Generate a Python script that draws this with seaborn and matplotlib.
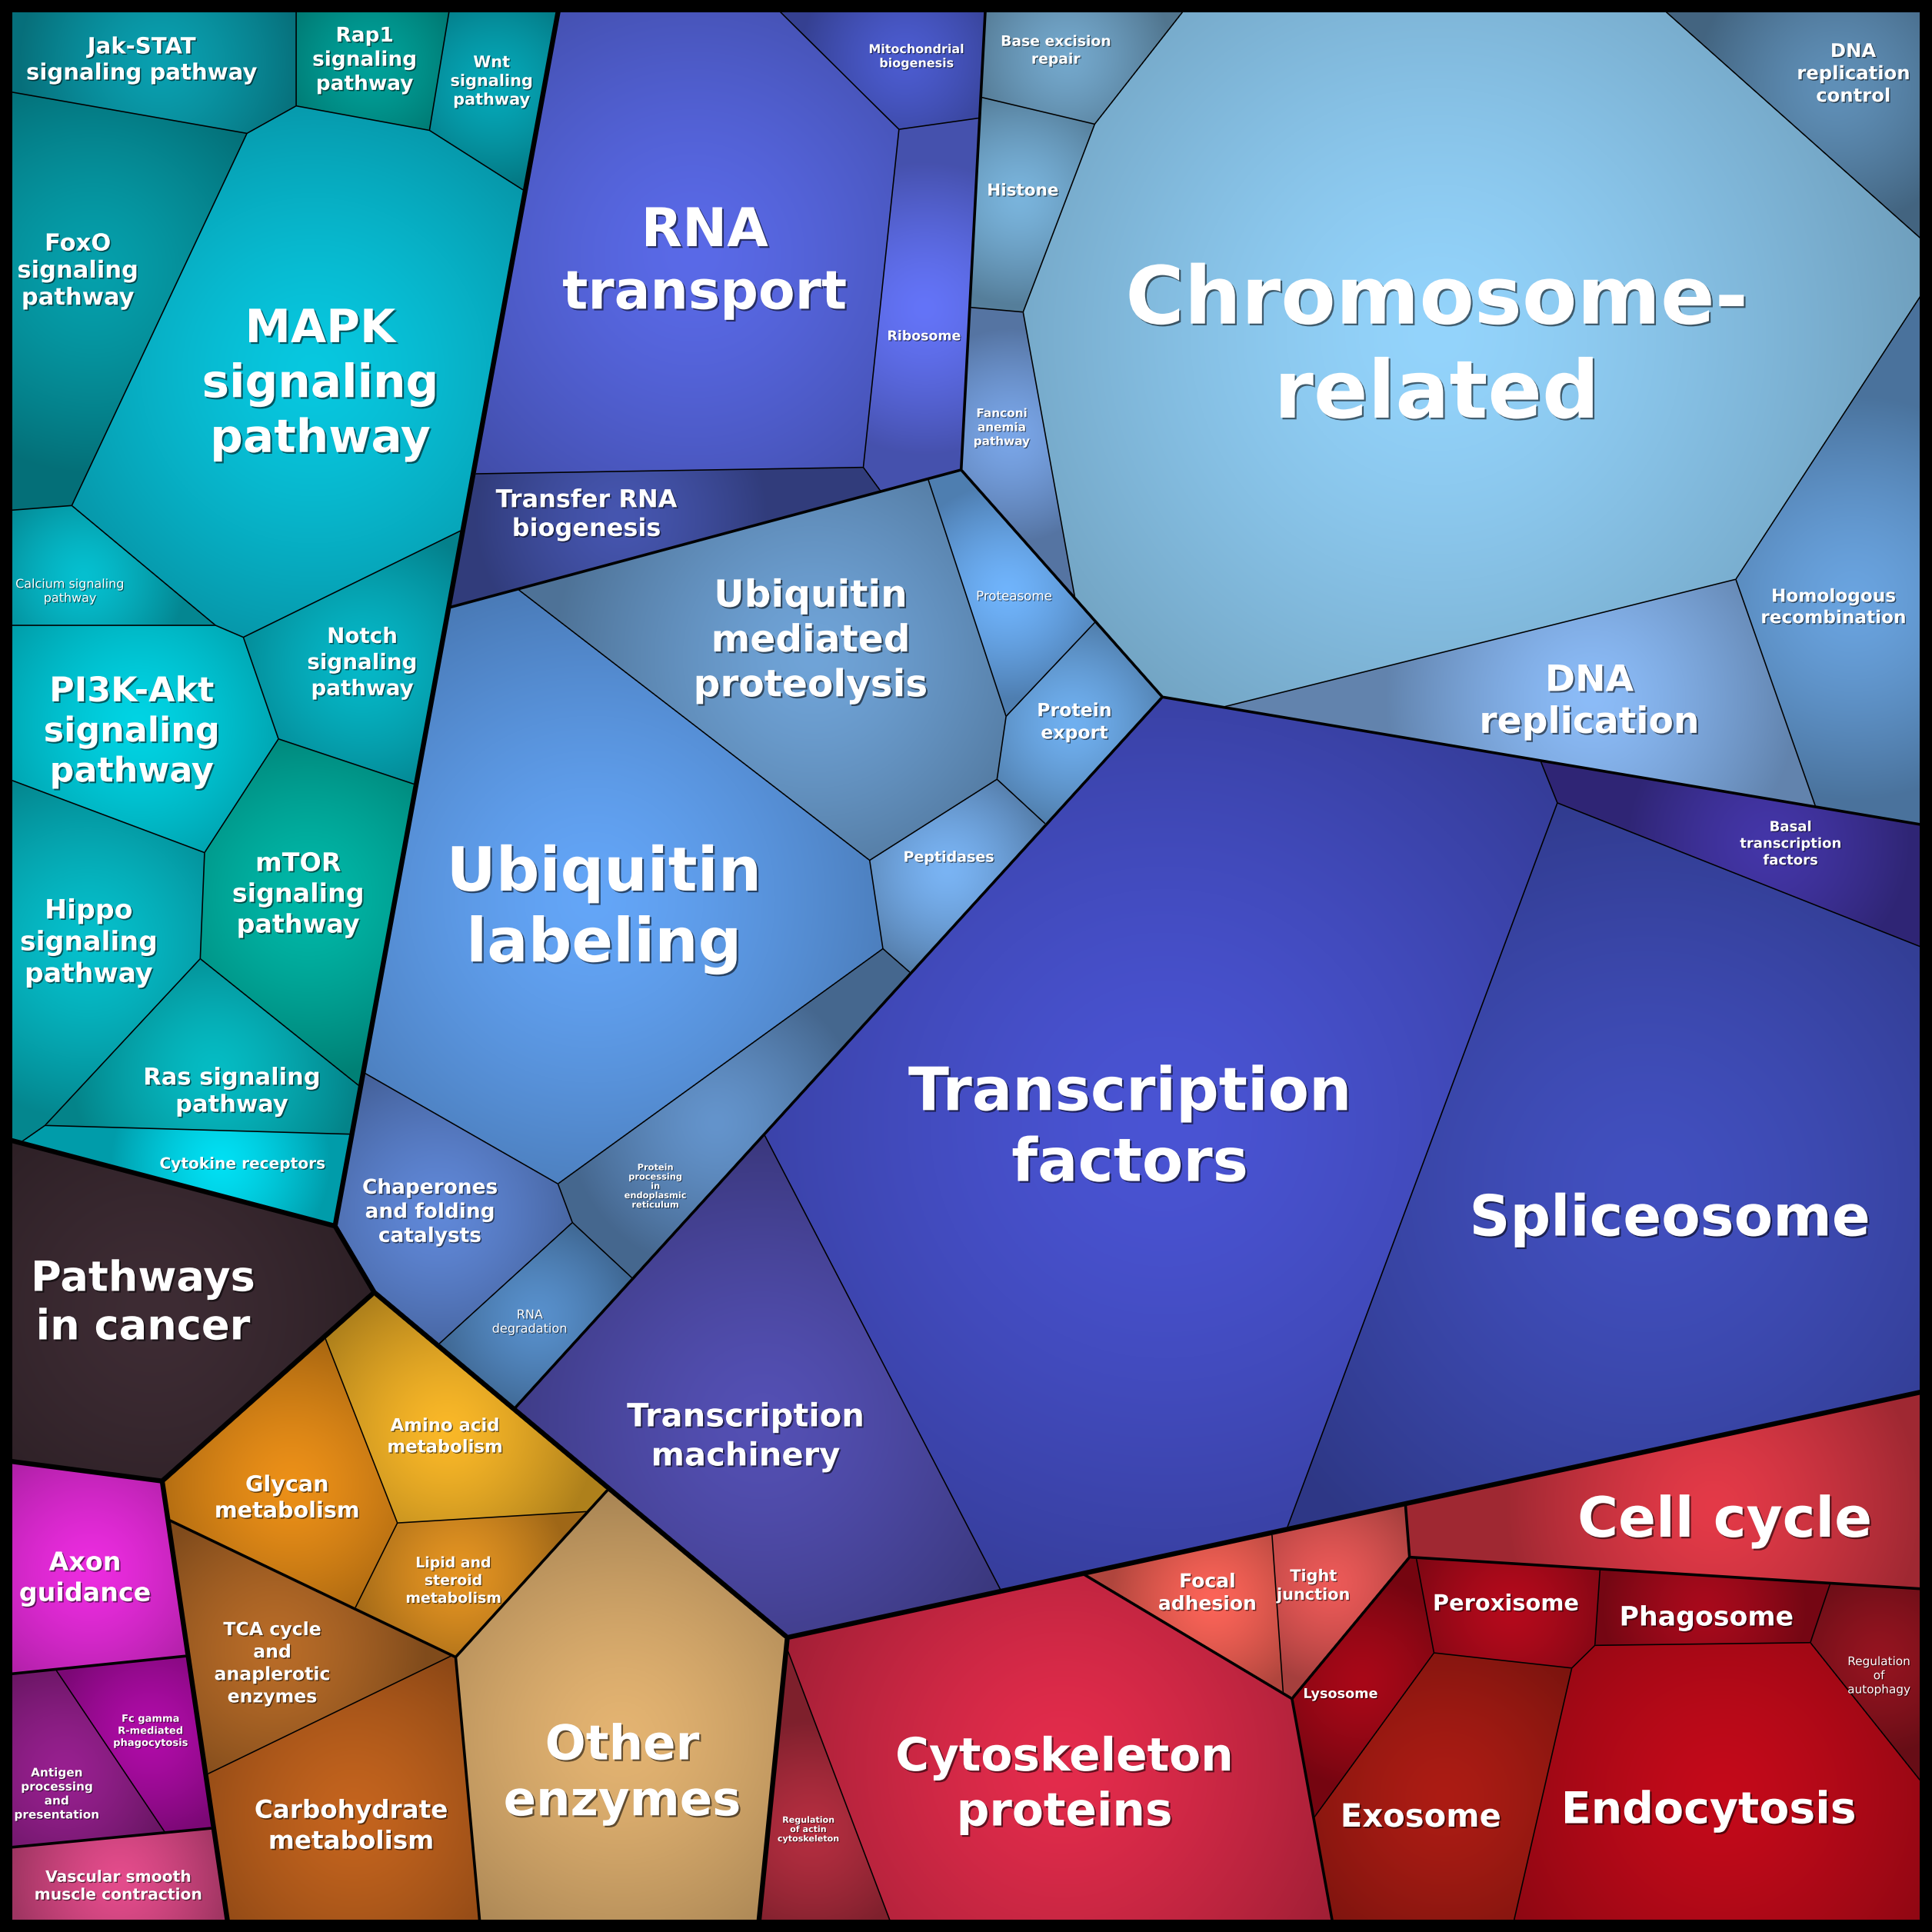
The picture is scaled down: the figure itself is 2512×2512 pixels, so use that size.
import numpy as np
import matplotlib
matplotlib.use("Agg")
import matplotlib.pyplot as plt
import matplotlib.patheffects as pe
from matplotlib.colors import to_rgb
import seaborn as sns

# ==============================
# Data (cell sizes, x1000 px^2 of a 1568 px canvas)
# ==============================
labels = [
    "Jak-STAT\nsignaling pathway", "Rap1\nsignaling\npathway", "Wnt\nsignaling\npathway",
    "FoxO\nsignaling\npathway", "MAPK\nsignaling\npathway", "Calcium signaling\npathway",
    "Notch\nsignaling\npathway", "PI3K-Akt\nsignaling\npathway", "mTOR\nsignaling\npathway",
    "Hippo\nsignaling\npathway", "Ras signaling\npathway", "Cytokine receptors",
    "RNA\ntransport", "Mitochondrial\nbiogenesis", "Ribosome", "Transfer RNA\nbiogenesis",
    "Ubiquitin\nmediated\nproteolysis", "Proteasome", "Protein\nexport", "Peptidases",
    "Ubiquitin\nlabeling", "Chaperones\nand folding\ncatalysts",
    "Protein\nprocessing\nin\nendoplasmic\nreticulum", "RNA\ndegradation",
    "Chromosome-\nrelated", "Base excision\nrepair", "Histone", "Fanconi\nanemia\npathway",
    "DNA\nreplication\ncontrol", "Homologous\nrecombination", "DNA\nreplication",
    "Transcription\nfactors", "Spliceosome", "Basal\ntranscription\nfactors", "Transcription\nmachinery",
    "Pathways\nin cancer",
    "Glycan\nmetabolism", "Amino acid\nmetabolism", "Lipid and\nsteroid\nmetabolism",
    "TCA cycle\nand\nanaplerotic\nenzymes", "Carbohydrate\nmetabolism", "Other\nenzymes",
    "Axon\nguidance", "Fc gamma\nR-mediated\nphagocytosis", "Antigen\nprocessing\nand\npresentation",
    "Vascular smooth\nmuscle contraction",
    "Regulation\nof actin\ncytoskeleton", "Cytoskeleton\nproteins", "Focal\nadhesion", "Tight\njunction",
    "Cell cycle", "Peroxisome", "Phagosome", "Regulation\nof\nautophagy", "Lysosome", "Exosome",
    "Endocytosis",
]
group = (["Signaling"] * 12 + ["Genetic"] * 23 + ["Cancer"] + ["Metabolism"] * 6
         + ["Organismal"] * 4 + ["Cellular"] * 11)
subgroup = (["Signaling"] * 12 + ["Translation"] * 4 + ["Folding"] * 8 + ["Replication"] * 7
            + ["Transcription"] * 4 + ["Cancer"] + ["MetA"] * 3 + ["MetB"] * 2 + ["MetC"]
            + ["Nervous", "Immune", "Immune", "Circulatory"]
            + ["Motility", "Motility", "Community", "Community", "Growth"] + ["Transport"] * 6)
values = [19.5, 10.4, 10.7, 40.0, 103.1, 10.4, 20.9, 31.3, 31.8, 30.8, 20.2, 11.8,
          107.4, 11.0, 21.0, 21.3,
          66.2, 11.5, 11.3, 11.0, 122.6, 24.1, 21.5, 10.7,
          313.2, 10.8, 11.4, 11.4, 19.4, 39.7, 41.8,
          283.8, 192.9, 19.6, 79.4,
          55.4,
          22.9, 21.8, 12.2, 22.2, 35.1, 72.5,
          21.1, 10.4, 11.5, 11.6,
          11.8, 94.4, 10.2, 10.2, 42.4, 10.9, 10.0, 8.8, 11.0, 32.9, 63.4]

# ==============================
# Layout / style (canvas units, 1568 wide)
# ==============================
BOX, LO, HI = 1568.0, 8.0, 1560.0
label_x = [115, 296, 399, 63, 260, 57, 294, 107, 242, 72, 188, 197,
           572, 744, 750, 476,
           658, 823, 872, 770, 490, 349, 532, 430,
           1166, 857, 830, 813, 1504, 1488, 1290,
           917, 1355, 1453, 605,
           116,
           233, 361, 368, 221, 285, 505,
           69, 122, 46, 96,
           656, 864, 980, 1066, 1400, 1222, 1385, 1525, 1088, 1153, 1387]
label_y = [49, 49, 66, 220, 312, 480, 538, 594, 726, 765, 886, 945,
           213, 46, 273, 418,
           520, 484, 586, 696, 738, 984, 963, 1073,
           283, 41, 155, 347, 60, 493, 570,
           916, 990, 685, 1166,
           1058,
           1216, 1166, 1283, 1350, 1482, 1440,
           1281, 1405, 1456, 1531,
           1485, 1449, 1293, 1287, 1235, 1302, 1313, 1360, 1375, 1475, 1470]
# generator points of the power diagram (cell level)
seed_x = [110, 296, 399, 80, 250, 100, 375, 100, 300, 55, 200, 198,
          572, 760, 790, 575,
          658, 810, 900, 770, 490, 349, 600, 430,
          1166, 857, 830, 813, 1400, 1488, 1240,
          1050, 1380, 1500, 630,
          116,
          233, 361, 368, 221, 285, 505,
          69, 122, 46, 96,
          650, 864, 975, 1060, 1400, 1222, 1385, 1525, 1072, 1208, 1387]
seed_y = [49, 49, 66, 220, 300, 480, 555, 650, 780, 770, 905, 975,
          250, 60, 273, 430,
          520, 470, 555, 696, 738, 984, 890, 1073,
          283, 41, 155, 347, 20, 493, 580,
          870, 993, 690, 1088,
          1058,
          1216, 1166, 1283, 1350, 1482, 1440,
          1281, 1405, 1456, 1531,
          1530, 1449, 1293, 1287, 1235, 1302, 1313, 1360, 1330, 1429, 1470]
font_pt = [21, 19, 15, 22, 43, 11.5, 20, 32, 24, 25, 22, 14.5,
           50, 11.5, 12.5, 23,
           35, 12, 17, 13.7, 57, 19, 8.2, 11.6,
           75, 13.5, 15.5, 11, 17.5, 16.7, 34,
           56, 53, 13, 30,
           39,
           20.6, 16.4, 13.6, 17, 23.5, 45,
           24, 9.4, 11, 14.6,
           8, 43, 18, 15, 52, 20.8, 25, 11, 12.7, 30, 41]
light_labels = ["Calcium signaling\npathway", "Proteasome", "RNA\ndegradation", "Regulation\nof\nautophagy"]
colors = ["#0aa0b0", "#00a29a", "#06a8b8", "#06a0ac", "#08c8e0", "#06c0d0", "#06b8c8", "#00d4e4",
          "#00b8a8", "#06c0cc", "#06bcc4", "#00e0f4",
          "#5a6ae8", "#4c5cd0", "#6474f8", "#4656b0",
          "#70a4d8", "#70b4fc", "#70b0f0", "#7ab4f4", "#64a6f8", "#6088d8", "#6494cc", "#5890cc",
          "#94d4fc", "#74a8cc", "#7ab4dc", "#7aa6e8", "#6090b8", "#6aa4e0", "#8cbcf8",
          "#4a54d4", "#4250c0", "#4436a8", "#5450b4",
          "#3e2c34",
          "#ec9018", "#fab828", "#e49422", "#b86c28", "#c4641e", "#e4b472",
          "#ec2ce0", "#b00ca8", "#982090", "#e44c8c",
          "#b42e40", "#e42c4c", "#fc6458", "#ec5a58", "#e43a48", "#b40a1c", "#a80a1c", "#941420",
          "#a80818", "#ac1c14", "#c40a1a"]

group_names = ["Signaling", "Genetic", "Cancer", "Metabolism", "Organismal", "Cellular"]
group_seed = {"Signaling": (285, 446), "Genetic": (960, 570), "Cancer": (121, 1066),
              "Metabolism": (340, 1312), "Organismal": (84, 1350), "Cellular": (1138, 1392)}
sub_seed = {"Signaling": (285, 446), "Translation": (538, 222), "Folding": (666, 698),
            "Replication": (1166, 255), "Transcription": (1035, 1034), "Cancer": (121, 1066),
            "MetA": (340, 1200), "MetB": (230, 1430), "MetC": (560, 1400),
            "Nervous": (70, 1278), "Immune": (85, 1425), "Circulatory": (95, 1530),
            "Motility": (864, 1531), "Community": (1020, 1270), "Growth": (1263, 1251),
            "Transport": (1250, 1461)}
HALF_W = (3.2, 1.8, 0.8)  # half line widths in output pixels: group, subgroup, cell
EDGE = 0.70

sns.set_theme(style="white")
plt.rcParams["font.family"] = ["DejaVu Sans"]

vals = np.array(values, float)
sx_c = np.array(seed_x, float)
sy_c = np.array(seed_y, float)
n_cells = len(labels)
subs_of = {g: [] for g in group_names}
cells_of = {}
for i in range(n_cells):
    if subgroup[i] not in subs_of[group[i]]:
        subs_of[group[i]].append(subgroup[i])
    cells_of.setdefault(subgroup[i], []).append(i)


# ==============================
# Power diagram treemap: weights fitted so areas match values
# ==============================
def fit(px, py, sx, sy, frac, iters=300, step=0.5):
    w = np.zeros(len(sx))
    if len(sx) == 1:
        return w
    D = (px[:, None] - sx[None]) ** 2 + (py[:, None] - sy[None]) ** 2
    area = px.size * CS * CS
    for _ in range(iters):
        got = np.bincount(np.argmin(D - w[None], axis=1), minlength=len(sx)) / px.size
        w += step * (frac - got) * area / np.pi
    return w


def plabel(px, py, sx, sy, w):
    D = (px[:, None] - sx[None]) ** 2 + (py[:, None] - sy[None]) ** 2 - w[None]
    return D.argmin(1)


CS = 3.0
cg_axis = np.arange(LO + CS / 2, HI, CS)
CX, CY = np.meshgrid(cg_axis, cg_axis)
CX, CY = CX.ravel(), CY.ravel()

gsx = np.array([group_seed[g][0] for g in group_names], float)
gsy = np.array([group_seed[g][1] for g in group_names], float)
gval = np.array([vals[[i for i in range(n_cells) if group[i] == g]].sum() for g in group_names])
w_group = fit(CX, CY, gsx, gsy, gval / gval.sum())
cg = plabel(CX, CY, gsx, gsy, w_group)

w_sub, w_cell = {}, {}
for gi, g in enumerate(group_names):
    m = cg == gi
    subs = subs_of[g]
    ssx = np.array([sub_seed[s][0] for s in subs], float)
    ssy = np.array([sub_seed[s][1] for s in subs], float)
    sv = np.array([vals[cells_of[s]].sum() for s in subs])
    w_sub[g] = fit(CX[m], CY[m], ssx, ssy, sv / sv.sum())
    cs_lab = plabel(CX[m], CY[m], ssx, ssy, w_sub[g])
    for si, s in enumerate(subs):
        ids = cells_of[s]
        mm = cs_lab == si
        cv = vals[ids]
        w_cell[s] = fit(CX[m][mm], CY[m][mm], sx_c[ids], sy_c[ids], cv / cv.sum())

# ==============================
# Full resolution raster
# ==============================
N = 2512
PX = BOX / N
axis = ((np.arange(N) + 0.5) * PX).astype(np.float32)
FX = np.tile(axis, N)
FY = np.repeat(axis, N)
IDX = np.flatnonzero((FX > LO) & (FX < HI) & (FY > LO) & (FY < HI))


def split(idx, sx, sy, w):
    px, py = FX[idx], FY[idx]
    n = len(sx)
    if n == 1:
        return np.zeros(idx.size, int), np.full(idx.size, np.inf, np.float32)
    P = np.empty((n, idx.size), np.float32)
    for k in range(n):
        P[k] = (px - sx[k]) ** 2 + (py - sy[k]) ** 2 - w[k]
    a = P.argmin(0)
    pk = P[a, np.arange(idx.size)]
    dist = np.full(idx.size, np.inf, np.float32)
    for j in range(n):
        sep = np.hypot(sx[a] - sx[j], sy[a] - sy[j]).astype(np.float32)
        with np.errstate(divide="ignore", invalid="ignore"):
            dj = (P[j] - pk) / (2 * sep)
        dj[a == j] = np.inf
        dist = np.minimum(dist, dj)
    return a, dist / PX


lab_g, d1 = split(IDX, gsx, gsy, w_group)
frame = np.minimum.reduce([FX[IDX] - LO, HI - FX[IDX], FY[IDX] - LO, HI - FY[IDX]]) / PX
d1 = np.minimum(d1, frame)
d2 = np.full(IDX.size, np.inf, np.float32)
d3 = np.full(IDX.size, np.inf, np.float32)
cell_pix = np.zeros(IDX.size, int)
for gi, g in enumerate(group_names):
    sel = np.flatnonzero(lab_g == gi)
    subs = subs_of[g]
    ssx = np.array([sub_seed[s][0] for s in subs], float)
    ssy = np.array([sub_seed[s][1] for s in subs], float)
    a, dd = split(IDX[sel], ssx, ssy, w_sub[g])
    d2[sel] = dd
    for si, s in enumerate(subs):
        sel2 = sel[a == si]
        ids = np.array(cells_of[s])
        b, ddd = split(IDX[sel2], sx_c[ids], sy_c[ids], w_cell[s])
        d3[sel2] = ddd
        cell_pix[sel2] = ids[b]

# radial shading around each cell's centroid, ramp built with seaborn
center = np.array([to_rgb(c) for c in colors])
lut = np.stack([np.array(sns.blend_palette([tuple(center[i] * EDGE), tuple(center[i])], n_colors=256))
                for i in range(n_cells)])
cnt = np.maximum(np.bincount(cell_pix, minlength=n_cells), 1)
mx = np.bincount(cell_pix, weights=FX[IDX], minlength=n_cells) / cnt
my = np.bincount(cell_pix, weights=FY[IDX], minlength=n_cells) / cnt
radius = 1.45 * np.sqrt(cnt * PX * PX / np.pi)
dist_c = np.hypot(FX[IDX] - mx[cell_pix], FY[IDX] - my[cell_pix])
t = np.clip(dist_c / radius[cell_pix], 0, 1)
rgb = lut[cell_pix, ((1 - t ** 1.4) * 255).astype(int)]

line = np.maximum.reduce([np.clip(HALF_W[0] - d1 + 0.5, 0, 1),
                          np.clip(HALF_W[1] - d2 + 0.5, 0, 1),
                          np.clip(HALF_W[2] - d3 + 0.5, 0, 1)])
rgb = rgb * (1 - line)[:, None]
img = np.zeros((N * N, 3))
img[IDX] = rgb
img = img.reshape(N, N, 3)

# ==============================
# Draw
# ==============================
fig = plt.figure(figsize=(N / 100, N / 100), dpi=100)
ax = fig.add_axes([0, 0, 1, 1])
ax.imshow(img, extent=(0, BOX, BOX, 0), interpolation="nearest")
ax.set_xlim(0, BOX)
ax.set_ylim(BOX, 0)
ax.axis("off")

for i in range(n_cells):
    off = min(1.6, 0.5 + font_pt[i] * 0.03)
    ax.text(label_x[i], label_y[i], labels[i], ha="center", va="center", color="white",
            fontsize=font_pt[i], linespacing=1.27,
            fontweight="normal" if labels[i] in light_labels else "bold",
            path_effects=[pe.withSimplePatchShadow(offset=(off, -off), shadow_rgbFace="black", alpha=0.55)])

fig.savefig("out.png", dpi=100)
plt.close(fig)
print("saved")
